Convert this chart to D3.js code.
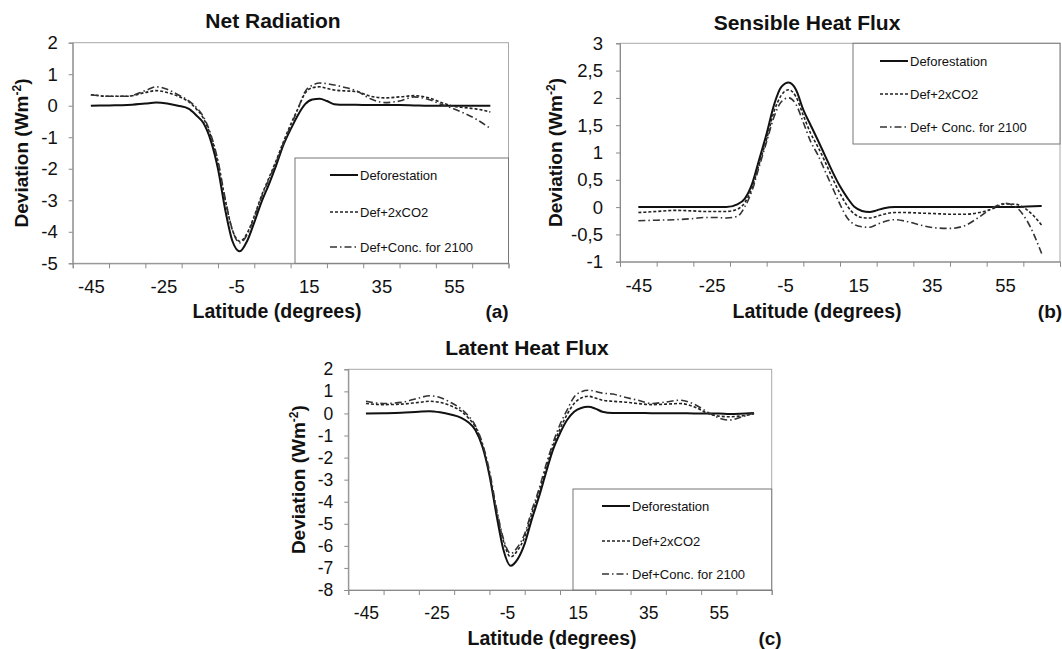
<!DOCTYPE html>
<html>
<head>
<meta charset="utf-8">
<script src="https://cdn.jsdelivr.net/npm/d3@7"></script>
<style>
  body { margin: 0; background: #fff; }
  svg { display: block; font-family: "Liberation Sans", Arial, sans-serif; }
</style>
</head>
<body>
<div id="chart"></div>
<script>
// latitudes sampled along the curves
var lats = [-45,-40,-35,-30,-27,-24,-21,-18,-16,-14,-12,-10,-8,-6,-4,-2,0,2,4,6,8,10,12,14,16,18,20,22,25,28,32,36,40,44,48,52,55,58,61,65];

var seriesNames = ['Deforestation', 'Def+2xCO2', 'Def+Conc. for 2100'];
var seriesNamesB = ['Deforestation', 'Def+2xCO2', 'Def+ Conc. for 2100'];

// (a) net radiation
var netDefor = [0,0.01,0.02,0.07,0.1,0.07,0,-0.1,-0.3,-0.55,-1.1,-2.0,-3.3,-4.3,-4.62,-4.3,-3.7,-3.05,-2.5,-1.9,-1.25,-0.75,-0.3,0.05,0.2,0.22,0.15,0.05,0.03,0.03,0.02,0.02,0.02,0.01,0,0,0,0,0,0];
var netCO2 = [0.35,0.3,0.3,0.42,0.48,0.42,0.3,0.12,-0.1,-0.4,-0.95,-1.8,-3.0,-3.95,-4.3,-4.05,-3.5,-2.85,-2.3,-1.75,-1.15,-0.6,-0.1,0.4,0.57,0.6,0.55,0.5,0.47,0.45,0.3,0.25,0.28,0.32,0.25,0.08,-0.02,-0.06,-0.1,-0.2];
var netConc = [0.35,0.3,0.3,0.48,0.6,0.52,0.35,0.15,-0.05,-0.35,-0.9,-1.75,-2.95,-3.95,-4.35,-4.1,-3.55,-2.9,-2.35,-1.8,-1.2,-0.65,-0.1,0.45,0.65,0.72,0.7,0.66,0.58,0.48,0.22,0.1,0.15,0.28,0.2,0.02,-0.1,-0.25,-0.42,-0.72];

// (b) sensible heat flux
var sensDefor = [0,0,0,0,0,0,0,0.05,0.15,0.42,0.88,1.35,1.87,2.2,2.28,2.15,1.78,1.5,1.22,0.93,0.64,0.38,0.17,0,-0.07,-0.09,-0.06,-0.02,0,0,0,0,0,0,0,0,0,0,0.01,0.02];
var sensCO2 = [-0.1,-0.08,-0.06,-0.07,-0.08,-0.08,-0.08,-0.04,0.08,0.35,0.8,1.25,1.75,2.05,2.15,2.02,1.68,1.35,1.1,0.82,0.52,0.25,0.02,-0.13,-0.19,-0.2,-0.17,-0.13,-0.1,-0.1,-0.11,-0.12,-0.13,-0.13,-0.1,-0.02,0.06,0.05,-0.05,-0.33];
var sensConc = [-0.25,-0.24,-0.23,-0.21,-0.19,-0.19,-0.2,-0.17,0,0.3,0.75,1.2,1.65,1.93,2.0,1.88,1.55,1.2,0.95,0.65,0.35,0.05,-0.2,-0.32,-0.36,-0.37,-0.32,-0.27,-0.23,-0.26,-0.33,-0.38,-0.39,-0.34,-0.18,0,0.07,0,-0.25,-0.85];

// (c) latent heat flux
var latDefor = [0,0.01,0.03,0.08,0.1,0.05,-0.05,-0.2,-0.4,-0.75,-1.5,-2.8,-4.6,-6.2,-6.9,-6.6,-5.9,-4.8,-3.8,-2.7,-1.65,-0.9,-0.3,0.08,0.25,0.3,0.22,0.08,0.02,0.02,0.02,0.01,0.01,0.01,0,0,0,-0.02,-0.01,0.02];
var latCO2 = [0.45,0.4,0.42,0.5,0.55,0.5,0.35,0.1,-0.2,-0.6,-1.4,-2.7,-4.4,-5.8,-6.5,-6.2,-5.6,-4.55,-3.6,-2.5,-1.5,-0.7,-0.05,0.45,0.7,0.78,0.7,0.6,0.55,0.52,0.45,0.4,0.42,0.45,0.3,0,-0.12,-0.15,-0.12,-0.02];
var latConc = [0.55,0.45,0.5,0.7,0.8,0.72,0.5,0.2,-0.1,-0.55,-1.35,-2.6,-4.3,-5.7,-6.35,-6.05,-5.45,-4.4,-3.45,-2.35,-1.35,-0.5,0.15,0.75,0.98,1.05,1.0,0.92,0.88,0.75,0.6,0.45,0.52,0.6,0.42,0.05,-0.2,-0.3,-0.18,0.02];

var xTickLines = d3.range(-50, 71, 10);
var xTickLabels = [-45, -25, -5, 15, 35, 55];
var ticksA = [2,1,0,-1,-2,-3,-4,-5];
var ticksB = [3,2.5,2,1.5,1,0.5,0,-0.5,-1];
var ticksC = [2,1,0,-1,-2,-3,-4,-5,-6,-7,-8];

var W = 1062, H = 649;
var FONT = '"Liberation Sans", Arial, sans-serif';
var styles = [
    {width: 2, dash: null, color: '#111'},
    {width: 1.6, dash: '3,2', color: '#222'},
    {width: 1.6, dash: '7,3,1.5,3', color: '#333'}
];

var svg = d3.select('#chart').append('svg')
    .attr('width', W)
    .attr('height', H);

var panels = [
    {title: 'Net Radiation', tag: '(a)', names: seriesNames,
     series: [netDefor, netCO2, netConc], yDomain: [-5, 2], yTicks: ticksA, comma: false,
     x0: 72.7, x1: 508.5, yTop: 42.7, yBot: 263.3, fs: 18.5, pad: 11,
     titleX: 273, titleY: 28, axTitleX: 277, axTitleY: 318, tagX: 497, yTitleX: 21,
     legend: {x0: 295, y0: 158, rows: [175, 212, 247], lx: 330}},
    {title: 'Sensible Heat Flux', tag: '(b)', names: seriesNamesB,
     series: [sensDefor, sensCO2, sensConc], yDomain: [-1, 3], yTicks: ticksB, comma: true,
     x0: 620, x1: 1060, yTop: 43.3, yBot: 261.7, fs: 18.5, pad: 13,
     titleX: 807, titleY: 30, axTitleX: 817, axTitleY: 318, tagX: 1050, yTitleX: 555,
     legend: {x0: 853, y0: 43.3, rows: [61, 94, 127], lx: 880}},
    {title: 'Latent Heat Flux', tag: '(c)', names: seriesNames,
     series: [latDefor, latCO2, latConc], yDomain: [-8, 2], yTicks: ticksC, comma: false,
     x0: 348.3, x1: 771.7, yTop: 369.3, yBot: 590, fs: 17.5, pad: 11,
     titleX: 527, titleY: 355, axTitleX: 552, axTitleY: 645, tagX: 770, yTitleX: 298,
     legend: {x0: 573, y0: 489, rows: [506, 541, 574], lx: 602}}
];

panels.forEach(drawPanel);

function drawPanel(p) {
    var g = svg.append('g');
    var x = d3.scaleLinear().domain([-50, 70]).range([p.x0, p.x1]);
    var y = d3.scaleLinear().domain(p.yDomain).range([p.yBot, p.yTop]);

    // plot area frame
    g.append('rect')
        .attr('x', p.x0).attr('y', p.yTop)
        .attr('width', p.x1 - p.x0).attr('height', p.yBot - p.yTop)
        .attr('fill', 'none').attr('stroke', '#a8a8a8').attr('stroke-width', 1);

    // plain hyphen minus, comma decimals for panel b
    var fmt = function(d) {
        var s = String(d);
        return p.comma ? s.replace('.', ',') : s;
    };

    var yAxis = g.append('g')
        .attr('transform', 'translate(' + p.x0 + ',0)')
        .call(d3.axisLeft(y).tickValues(p.yTicks).tickSize(4).tickPadding(p.pad).tickFormat(fmt));
    yAxis.selectAll('text').attr('font-size', p.fs).attr('fill', '#111').attr('font-family', FONT);

    var xAxis = g.append('g')
        .attr('transform', 'translate(0,' + p.yBot + ')')
        .call(d3.axisBottom(x).tickValues(xTickLines).tickSize(5).tickFormat(''));
    var xLab = g.append('g')
        .attr('transform', 'translate(0,' + p.yBot + ')')
        .call(d3.axisBottom(x).tickValues(xTickLabels).tickSize(0).tickPadding(17).tickFormat(fmt));
    xLab.select('.domain').remove();
    xLab.selectAll('text').attr('font-size', p.fs).attr('fill', '#111').attr('font-family', FONT);

    [yAxis, xAxis].forEach(function(a) {
        a.select('.domain').attr('stroke', '#8a8a8a');
        a.selectAll('.tick line').attr('stroke', '#8a8a8a');
    });

    var line = d3.line()
        .x(function(d) { return x(d[0]); })
        .y(function(d) { return y(d[1]); })
        .curve(d3.curveMonotoneX);

    p.series.forEach(function(vals, i) {
        var pts = lats.map(function(l, k) { return [l, vals[k]]; });
        g.append('path')
            .datum(pts)
            .attr('d', line)
            .attr('fill', 'none')
            .attr('stroke', styles[i].color)
            .attr('stroke-width', styles[i].width)
            .attr('stroke-dasharray', styles[i].dash);
    });

    // legend
    var L = p.legend;
    var lg = g.append('g');
    lg.append('rect')
        .attr('x', L.x0).attr('y', L.y0)
        .attr('width', p.x1 - L.x0).attr('height', (L.y0 === p.yTop ? L.rows[2] + 17 : p.yBot) - L.y0)
        .attr('fill', '#fff').attr('stroke', '#777').attr('stroke-width', 1);
    L.rows.forEach(function(ry, i) {
        lg.append('line')
            .attr('x1', L.lx).attr('x2', L.lx + 28)
            .attr('y1', ry).attr('y2', ry)
            .attr('stroke', styles[i].color)
            .attr('stroke-width', styles[i].width)
            .attr('stroke-dasharray', styles[i].dash);
        lg.append('text')
            .attr('x', L.lx + 30).attr('y', ry)
            .attr('dy', '0.35em')
            .attr('font-size', 13).attr('fill', '#111')
            .text(p.names[i]);
    });

    // titles
    g.append('text')
        .attr('x', p.titleX).attr('y', p.titleY)
        .attr('text-anchor', 'middle')
        .attr('font-size', 21).attr('font-weight', 'bold').attr('fill', '#111')
        .text(p.title);
    g.append('text')
        .attr('x', p.axTitleX).attr('y', p.axTitleY)
        .attr('text-anchor', 'middle')
        .attr('font-size', 19.5).attr('font-weight', 'bold').attr('fill', '#111')
        .text('Latitude (degrees)');
    g.append('text')
        .attr('x', p.tagX).attr('y', p.axTitleY)
        .attr('text-anchor', 'middle')
        .attr('font-size', 19).attr('font-weight', 'bold').attr('fill', '#111')
        .text(p.tag);

    var yt = g.append('text')
        .attr('transform', 'translate(' + p.yTitleX + ',' + ((p.yTop + p.yBot) / 2) + ') rotate(-90)')
        .attr('text-anchor', 'middle')
        .attr('dy', '0.35em')
        .attr('font-size', 19).attr('font-weight', 'bold').attr('fill', '#111');
    yt.append('tspan').text('Deviation (Wm');
    yt.append('tspan').attr('dy', -7).attr('font-size', 12).text('-2');
    yt.append('tspan').attr('dy', 7).text(')');
}
</script>
</body>
</html>
